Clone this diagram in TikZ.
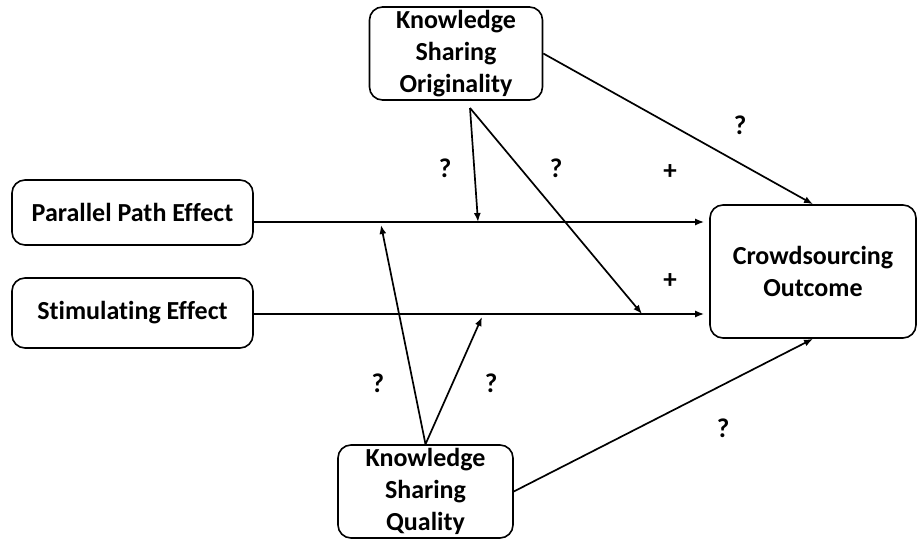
\documentclass[tikz,border=0pt]{standalone}
\usepackage{fontspec}
\setmainfont[Ligatures=NoCommon]{Carlito}
\usepackage{tikz}
\usetikzlibrary{arrows.meta}

\begin{document}
\begin{tikzpicture}[x=1pt,y=-1pt]
		\tikzstyle{VertexStyle}=[draw,line width=1.6pt,rounded corners=13pt,align=center,
			font=\fontsize{26}{32}\selectfont\bfseries,inner sep=0pt]
		\tikzstyle{EdgeStyle}=[line width=1.7pt,-{Latex[length=9pt,width=7pt]}]
		\tikzstyle{LabelStyle}=[font=\fontsize{27}{30}\selectfont\bfseries]
		\useasboundingbox (0,0) rectangle (918,540);
		\node[VertexStyle,minimum width=173pt,minimum height=93pt] (KSO) at (456,53.5) {Knowledge\\Sharing\\Originality};
		\node[VertexStyle,minimum width=241pt,minimum height=65pt] (PPE) at (132.5,212.5) {Parallel Path Effect};
		\node[VertexStyle,minimum width=241pt,minimum height=70pt] (SE) at (132.5,313) {Stimulating Effect};
		\node[VertexStyle,minimum width=206pt,minimum height=133pt] (CO) at (813,271.5) {Crowdsourcing\\Outcome};
		\node[VertexStyle,minimum width=175pt,minimum height=93pt] (KSQ) at (425.5,491.5) {Knowledge\\Sharing\\Quality};
		% points on the paths
		\coordinate (KSOout) at (470,108);
		\coordinate (A) at (478,222);
		\coordinate (B) at (642,314);
		\coordinate (C) at (381,225);
		\coordinate (D) at (482,317);
		\draw[EdgeStyle,shorten >=5pt] ([yshift=-9.5pt]PPE.east) -- (CO.west |- A);
		\draw[EdgeStyle,shorten >=5pt] (SE.east |- B) -- (CO.west |- B);
		\draw[EdgeStyle] (KSOout) -- (A);
		\draw[EdgeStyle] (KSOout) -- (B);
		\draw[EdgeStyle] (KSQ.north) -- (C);
		\draw[EdgeStyle] (KSQ.north) -- (D);
		\draw[EdgeStyle] (KSO.east) -- (CO.north);
		\draw[EdgeStyle] (KSQ.east) -- (CO.south);
		\node[LabelStyle] (q1) at (445,168) {?};
		\node[LabelStyle] (q2) at (556,168) {?};
		\node[LabelStyle] (q3) at (740,125) {?};
		\node[LabelStyle] (q4) at (378,383) {?};
		\node[LabelStyle] (q5) at (491,383) {?};
		\node[LabelStyle] (q6) at (723,428) {?};
		\node[LabelStyle] (p1) at (670,172) {+};
		\node[LabelStyle] (p2) at (670,281) {+};
\end{tikzpicture}
\end{document}
